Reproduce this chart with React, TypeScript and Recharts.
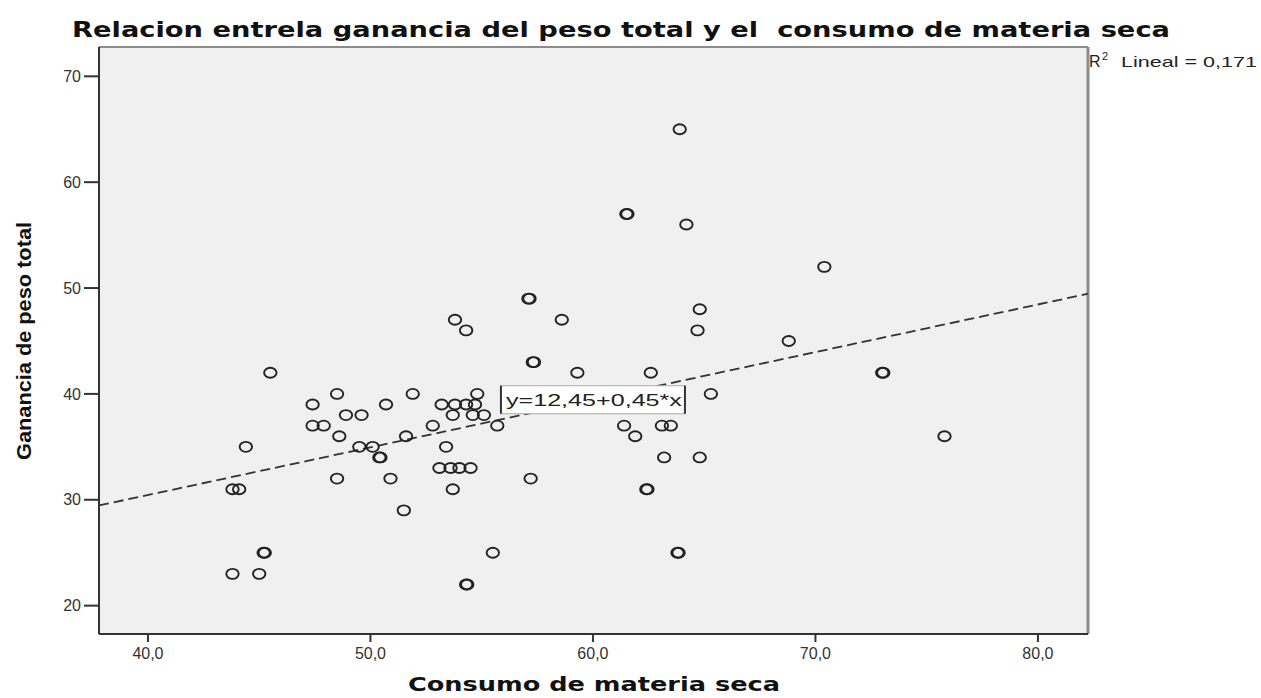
import React from "react";
import {
  ScatterChart, Scatter, XAxis, YAxis, CartesianGrid,
  ReferenceLine, ReferenceDot,
} from "recharts";

// consumo de materia seca (x) y ganancia de peso total (y)
const consumo = [
  63.9, 61.5, 61.55, 64.2, 70.4, 57.1, 57.15, 64.8, 53.8, 58.6,
  54.3, 64.7, 68.8, 57.3, 57.35, 45.5, 59.3, 62.6, 73.0, 73.05,
  48.5, 51.9, 54.8, 65.3, 47.4, 50.7, 53.2, 53.8, 54.3, 54.7,
  48.9, 49.6, 53.7, 54.6, 55.1, 47.4, 47.9, 52.8, 55.7, 61.4,
  63.1, 63.5, 48.6, 51.6, 61.9, 75.8, 44.4, 49.5, 50.1, 53.4,
  50.4, 50.45, 63.2, 64.8, 53.1, 53.6, 54.0, 54.5, 48.5, 50.9,
  57.2, 43.8, 44.1, 53.7, 62.4, 62.45, 51.5, 45.2, 45.25, 55.5,
  63.8, 63.85, 43.8, 45.0, 54.3, 54.35,
];
const ganancia = [
  65, 57, 57, 56, 52, 49, 49, 48, 47, 47,
  46, 46, 45, 43, 43, 42, 42, 42, 42, 42,
  40, 40, 40, 40, 39, 39, 39, 39, 39, 39,
  38, 38, 38, 38, 38, 37, 37, 37, 37, 37,
  37, 37, 36, 36, 36, 36, 35, 35, 35, 35,
  34, 34, 34, 34, 33, 33, 33, 33, 32, 32,
  32, 31, 31, 31, 31, 31, 29, 25, 25, 25,
  25, 25, 23, 23, 22, 22,
];

const xTicks = [40, 50, 60, 70, 80];
const yTicks = [20, 30, 40, 50, 60, 70];
const xDomain = [37.8, 82.25];
const yDomain = [17.32, 72.77];

// recta de regresion: y = 12,45 + 0,45*x
const intercepto = 12.45;
const pendiente = 0.45;
const r2 = "0,171";

const data = consumo.map((x, i) => ({ x, y: ganancia[i] }));
const fit = (x: number) => intercepto + pendiente * x;

const fmtX = (v: number) => v.toFixed(1).replace(".", ",");

function Ring(props: any) {
  const { cx, cy } = props;
  if (cx == null || cy == null) return null;
  return <ellipse cx={cx} cy={cy} rx={6.2} ry={5} fill="none" stroke="#222" strokeWidth={1.9} />;
}

function EqBox(props: any) {
  const { cx, cy } = props;
  if (cx == null || cy == null) return null;
  const w = 184, h = 28;
  return (
    <g>
      <rect x={cx - w / 2} y={cy - h / 2} width={w} height={h} fill="#fff" stroke="#aaa" strokeWidth={1} />
      <line x1={cx - w / 2} y1={cy - h / 2} x2={cx - w / 2} y2={cy + h / 2} stroke="#333" strokeWidth={2} />
      <line x1={cx + w / 2} y1={cy - h / 2} x2={cx + w / 2} y2={cy + h / 2} stroke="#333" strokeWidth={2} />
      <text
        x={cx - w / 2 + 5} y={cy + 6} fontSize={17} fill="#222"
        fontFamily="Liberation Sans, Arial, sans-serif"
        textLength={176} lengthAdjust="spacingAndGlyphs"
      >
        {`y=${String(intercepto).replace(".", ",")}+${String(pendiente).replace(".", ",")}*x`}
      </text>
    </g>
  );
}

export default function App() {
  const tickStyle = { fontSize: 16, fill: "#333", fontFamily: "Liberation Sans, Arial, sans-serif" };
  return (
    <div style={{ position: "absolute", left: 0, top: 0, width: 1261, height: 698, background: "#fff" }}>
      <ScatterChart width={1261} height={698} margin={{ top: 47, right: 173, bottom: 0, left: 0 }}>
        <CartesianGrid fill="#f0f0f0" horizontal={false} vertical={false} />
        <XAxis
          type="number" dataKey="x" domain={xDomain} ticks={xTicks} allowDataOverflow
          tickFormatter={fmtX} height={64} tickSize={8} tickMargin={6}
          tick={tickStyle} axisLine={{ stroke: "#333", strokeWidth: 2 }}
          tickLine={{ stroke: "#333", strokeWidth: 2 }}
        />
        <YAxis
          type="number" dataKey="y" domain={yDomain} ticks={yTicks} allowDataOverflow
          width={99} tickSize={15} tickMargin={3}
          tick={tickStyle} axisLine={{ stroke: "#333", strokeWidth: 2 }}
          tickLine={{ stroke: "#333", strokeWidth: 2 }}
        />
        <ReferenceLine y={yDomain[1]} stroke="#8c8c8c" strokeWidth={2} />
        <ReferenceLine x={xDomain[1]} stroke="#8c8c8c" strokeWidth={3} />
        <ReferenceLine
          segment={[
            { x: xDomain[0], y: fit(xDomain[0]) },
            { x: xDomain[1], y: fit(xDomain[1]) },
          ]}
          stroke="#333" strokeWidth={1.8} strokeDasharray="10 5" ifOverflow="visible"
        />
        <Scatter data={data} shape={Ring} isAnimationActive={false} />
        <ReferenceDot x={60} y={fit(60)} r={0} shape={EqBox} ifOverflow="visible" />
      </ScatterChart>
      <svg width={1261} height={698} style={{ position: "absolute", left: 0, top: 0, pointerEvents: "none" }}>
        <text
          x={72} y={37} fontSize={22} fontWeight="bold" fill="#111"
          fontFamily="DejaVu Sans, Verdana, sans-serif"
          textLength={1098} lengthAdjust="spacingAndGlyphs" style={{ whiteSpace: "pre" }}
        >
          Relacion entrela ganancia del peso total y el  consumo de materia seca
        </text>
        <text x={1089} y={67} fontSize={16} fill="#222" fontFamily="Liberation Sans, Arial, sans-serif">R</text>
        <text x={1102} y={60} fontSize={11} fill="#222" fontFamily="Liberation Sans, Arial, sans-serif">2</text>
        <text
          x={1121} y={67} fontSize={15} fill="#222" fontFamily="Liberation Sans, Arial, sans-serif"
          textLength={136} lengthAdjust="spacingAndGlyphs"
        >
          {`Lineal = ${r2}`}
        </text>
        <text
          x={0} y={0} transform="translate(31, 341) rotate(-90)" textAnchor="middle"
          fontSize={20} fontWeight="bold" fill="#111"
          fontFamily="Liberation Sans, Arial, sans-serif"
          textLength={238} lengthAdjust="spacingAndGlyphs"
        >
          Ganancia de peso total
        </text>
        <text
          x={408} y={691} fontSize={20} fontWeight="bold" fill="#111"
          fontFamily="DejaVu Sans, Verdana, sans-serif"
          textLength={372} lengthAdjust="spacingAndGlyphs"
        >
          Consumo de materia seca
        </text>
      </svg>
    </div>
  );
}
